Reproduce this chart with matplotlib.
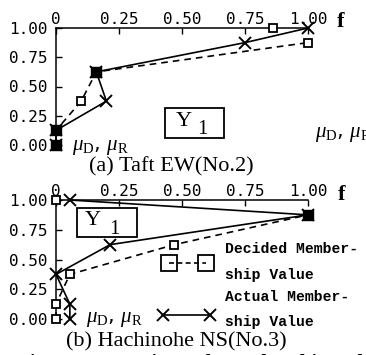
import matplotlib
matplotlib.use("Agg")
import matplotlib.pyplot as plt
from matplotlib.patches import Rectangle

plt.rcParams["mathtext.fontset"] = "custom"
plt.rcParams["mathtext.rm"] = "Liberation Serif"
plt.rcParams["mathtext.it"] = "Liberation Serif:italic"

W, H = 366, 355

# membership grade levels (vertical axis) and f values for each case
levels = [0.0, 0.125, 0.375, 0.625, 0.875, 1.0]

taft_decided = [0.0, 0.0, 0.10, 0.16, 1.0, 0.86]
taft_actual = [0.0, 0.0, 0.20, 0.16, 0.75, 1.0]

hachi_decided = [0.0, 0.0, 0.055, 0.47, 1.0, 0.0]
hachi_actual = [0.055, 0.055, 0.0, 0.215, 1.0, 0.055]

ticks = [0.0, 0.25, 0.50, 0.75, 1.00]
xtick_labels = ["0", "0.25", "0.50", "0.75", "1.00"]
ytick_labels = ["0.00", "0.25", "0.50", "0.75", "1.00"]

MONO = "DejaVu Sans Mono"
SERIF = "Liberation Serif"


def fx(x):
    return x / W


def fy(y):
    return 1 - y / H


def panel(rect, decided, actual):
    ax = fig.add_axes(rect)
    ax.set_xlim(0, 1)
    ax.set_ylim(0, 1)
    for s in ("right", "bottom"):
        ax.spines[s].set_visible(False)
    for s in ("left", "top"):
        ax.spines[s].set_linewidth(1.1)
    ax.xaxis.tick_top()
    ax.set_xticks(ticks, xtick_labels)
    ax.set_yticks(ticks, ytick_labels)
    ax.tick_params(direction="in", length=4, width=1, labelsize=11.5)
    ax.tick_params(axis="x", pad=1)
    ax.tick_params(axis="y", pad=6)
    for lab in ax.get_xticklabels() + ax.get_yticklabels():
        lab.set_fontfamily(MONO)
    ax.patch.set_visible(False)

    # decided values: dashed through the lower five levels
    ax.plot(decided[:5], levels[:5], ls=(0, (4, 3)), color="k", lw=1.2, clip_on=False)
    ax.plot(decided, levels, ls="none", marker="s", ms=6, mfc="white",
            mec="k", mew=1.3, clip_on=False, zorder=3)
    # actual values: solid with crosses
    ax.plot(actual, levels, color="k", lw=1.2, marker="x", ms=8, mew=1.4,
            clip_on=False, zorder=4)
    # where both agree the symbols merge into a filled block
    same = [(d, l) for d, a, l in zip(decided, actual, levels) if d == a]
    if same:
        ax.plot([p[0] for p in same], [p[1] for p in same], ls="none",
                marker="s", ms=7, color="k", clip_on=False, zorder=5)
    return ax


fig = plt.figure(figsize=(W / 100, H / 100), dpi=100)

ax_a = panel([fx(56), fy(145), 252 / W, 117 / H], taft_decided, taft_actual)
ax_b = panel([fx(56), fy(319), 252 / W, 119 / H], hachi_decided, hachi_actual)

# boxed Y1 labels
for x0, y0, x1, y1 in [(165, 108, 224, 138), (77, 208, 137, 237)]:
    fig.patches.append(Rectangle((fx(x0), fy(y1)), (x1 - x0) / W, (y1 - y0) / H,
                                 transform=fig.transFigure, fill=False,
                                 ec="k", lw=1.3))
fig.text(fx(184), fy(121), "Y", family=SERIF, fontsize=16, ha="center", va="center")
fig.text(fx(202), fy(129), "1", family=SERIF, fontsize=15, ha="center", va="center")
fig.text(fx(93), fy(221), "Y", family=SERIF, fontsize=16, ha="center", va="center")
fig.text(fx(114), fy(229), "1", family=SERIF, fontsize=15, ha="center", va="center")

# axis names
mu = r"$\mu_{\mathrm{D}}$, $\mu_{\mathrm{R}}$"
fig.text(fx(72), fy(147), mu, fontsize=15, ha="left", va="center")
fig.text(fx(315), fy(134), mu, fontsize=15, ha="left", va="center")
fig.text(fx(86), fy(319), mu, fontsize=15, ha="left", va="center")
fig.text(fx(341), fy(22), "f", family=SERIF, fontsize=16, weight="bold",
         ha="center", va="center")
fig.text(fx(342), fy(195), "f", family=SERIF, fontsize=16, weight="bold",
         ha="center", va="center")

# legend inside panel (b)
ax_b.plot([0.448, 0.595], [0.47, 0.47], ls=(0, (3, 2)), color="k", lw=1.2,
          marker="s", ms=12, mfc="none", mec="k", mew=1.3, clip_on=False)
ax_b.plot([0.425, 0.61], [0.034, 0.034], color="k", lw=1.2, marker="x", ms=8,
          mew=1.4, clip_on=False)
LEG = dict(family="Liberation Mono", fontsize=10.6, weight="bold",
           ha="left", va="center")
fig.text(fx(225), fy(249), "Decided Member-", **LEG)
fig.text(fx(225), fy(275), "ship Value", **LEG)
fig.text(fx(225), fy(297), "Actual Member-", **LEG)
fig.text(fx(225), fy(322), "ship Value", **LEG)

# captions
fig.text(fx(171), fy(167), "(a) Taft EW(No.2)", family=SERIF, fontsize=16,
         ha="center", va="center")
fig.text(fx(176), fy(342), "(b) Hachinohe NS(No.3)", family=SERIF, fontsize=16,
         ha="center", va="center")
fig.text(fx(17), fy(364), "Fig.16 Comparison of Membership Values", family=SERIF,
         fontsize=15, weight="bold", ha="left", va="center")

fig.savefig("out.png", dpi=100)
